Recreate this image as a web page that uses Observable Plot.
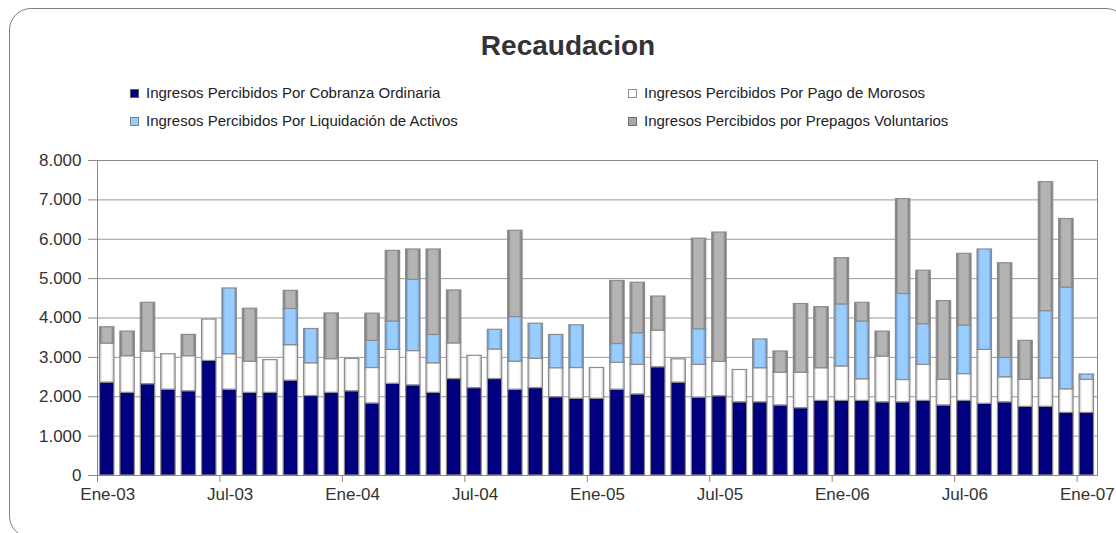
<!DOCTYPE html>
<html>
<head>
<meta charset="utf-8">
<script src="https://cdn.jsdelivr.net/npm/d3@7"></script>
<script src="https://cdn.jsdelivr.net/npm/@observablehq/plot@0.6"></script>
<style>
  body { margin: 0; background: #fff; font-family: "Liberation Sans", Arial, sans-serif; }
  #wrap { position: relative; width: 1116px; height: 533px; overflow: hidden; }
  #frame { position: absolute; left: 9px; top: 8px; width: 1117px; height: 528px; border: 1px solid #808080; border-radius: 22px; pointer-events: none; }
  #header { position: relative; height: 140px; }
  #title { position: absolute; left: 10px; width: 1116px; top: 30px; text-align: center; font-weight: bold; font-size: 28px; line-height: 32px; color: #333; }
  .leg { position: absolute; font-size: 15px; line-height: 18px; color: #222; white-space: nowrap; }
  .sw { position: absolute; width: 7px; height: 7px; border: 1px solid #808080; }
  #chart svg { display: block; }
</style>
</head>
<body>
<div id="wrap">
  <div id="frame"></div>
  <div id="header">
    <div id="title">Recaudacion</div>
    <div id="legend"></div>
  </div>
  <div id="chart"></div>
</div>
<script>
// Categories (months)
const months = [
  "Ene-03","Feb-03","Mar-03","Abr-03","May-03","Jun-03","Jul-03","Ago-03","Sep-03","Oct-03","Nov-03","Dic-03",
  "Ene-04","Feb-04","Mar-04","Abr-04","May-04","Jun-04","Jul-04","Ago-04","Sep-04","Oct-04","Nov-04","Dic-04",
  "Ene-05","Feb-05","Mar-05","Abr-05","May-05","Jun-05","Jul-05","Ago-05","Sep-05","Oct-05","Nov-05","Dic-05",
  "Ene-06","Feb-06","Mar-06","Abr-06","May-06","Jun-06","Jul-06","Ago-06","Sep-06","Oct-06","Nov-06","Dic-06",
  "Ene-07"
];
// Tick labels on the x axis
const xTickLabels = ["Ene-03","Jul-03","Ene-04","Jul-04","Ene-05","Jul-05","Ene-06","Jul-06","Ene-07"];
// Y ticks
const yTicks = [0,1000,2000,3000,4000,5000,6000,7000,8000];

// Series names
const seriesNames = [
  "Ingresos Percibidos Por Cobranza Ordinaria",
  "Ingresos Percibidos Por Pago de Morosos",
  "Ingresos Percibidos Por Liquidación de Activos",
  "Ingresos Percibidos por Prepagos Voluntarios"
];

// Series values
const cobranza = [2360,2100,2320,2180,2140,2910,2180,2100,2100,2410,2020,2100,
                  2140,1830,2330,2290,2100,2450,2220,2450,2180,2220,1990,1950,
                  1950,2180,2060,2750,2360,1980,2015,1860,1860,1780,1710,1895,
                  1895,1895,1860,1860,1895,1780,1895,1820,1860,1745,1745,1590,
                  1590];
const morosos = [990,930,830,900,890,1050,900,790,830,900,830,855,
                 820,900,860,870,750,905,820,750,710,745,735,780,
                 780,680,750,930,590,830,870,820,865,830,900,830,
                 875,550,1160,565,915,650,680,1370,635,685,720,600,
                 840];
const liquidacion = [0,0,0,0,0,0,1670,0,0,920,870,0,
                     0,690,720,1810,720,0,0,500,1135,890,845,1085,
                     0,480,805,0,0,905,0,0,730,0,0,0,
                     1575,1465,0,2185,1035,0,1235,2550,490,0,1710,2580,
                     135];
const prepagos = [415,625,1235,0,540,0,0,1345,0,460,0,1160,
                  0,690,1795,770,2170,1345,0,0,2190,0,0,0,
                  0,1600,1280,865,0,2300,3285,0,0,540,1745,1550,
                  1175,475,635,2410,1355,2000,1820,0,2405,990,3275,1745,
                  0];

const seriesValues = [cobranza, morosos, liquidacion, prepagos];
const fills = ["url(#gNavy)", "url(#gWhite)", "url(#gBlue)", "url(#gGray)"];

// Long table
const data = [];
months.forEach((m, i) => {
  seriesValues.forEach((vals, s) => {
    if (vals[i] > 0) data.push({i, month: m, serie: seriesNames[s], value: vals[i]});
  });
});

const xTickIdx = xTickLabels.map(l => months.indexOf(l));
const fmtY = d => d3.format(",")(d).replace(/,/g, ".");

const plot = Plot.plot({
  width: 1116,
  height: 393,
  marginTop: 20,
  marginBottom: 58,
  marginLeft: 97,
  marginRight: 19,
  style: {fontFamily: "'Liberation Sans', Arial, sans-serif", fontSize: "17px", color: "#333", background: "transparent"},
  x: {type: "linear", domain: [0, months.length], label: null},
  y: {domain: [0, 8000], label: null},
  color: {type: "ordinal", domain: seriesNames, range: fills},
  marks: [
    Plot.gridY(yTicks, {stroke: "#999", strokeOpacity: 1}),
    Plot.rectY(data, {
      x1: "i",
      x2: d => d.i + 1,
      y: "value",
      fill: "serie",
      order: seriesNames,
      stroke: "#8c8c8c",
      strokeWidth: 1.2,
      insetLeft: 2.5,
      insetRight: 3.5
    }),
    Plot.frame({stroke: "#888"}),
    Plot.axisY({ticks: yTicks, tickFormat: fmtY, tickSize: 9, tickPadding: 7, stroke: "#888", fontSize: 17, label: null}),
    Plot.axisX({ticks: xTickIdx, tickFormat: () => "", tickSize: 7, stroke: "#888", label: null}),
    Plot.axisX({ticks: xTickIdx.map(i => i + 0.5), tickFormat: d => months[Math.round(d - 0.5)], tickSize: 0, tickPadding: 12, fontSize: 17, label: null})
  ]
});

// gradients
const defs = d3.select(plot).insert("defs", ":first-child");
function grad(id, edge, mid, e1 = 0.22) {
  const g = defs.append("linearGradient").attr("id", id).attr("x1", 0).attr("x2", 1).attr("y1", 0).attr("y2", 0);
  g.append("stop").attr("offset", 0).attr("stop-color", edge);
  g.append("stop").attr("offset", e1).attr("stop-color", mid);
  g.append("stop").attr("offset", 1 - e1).attr("stop-color", mid);
  g.append("stop").attr("offset", 1).attr("stop-color", edge);
}
grad("gNavy", "#00005c", "#000080", 0.2);
grad("gWhite", "#bdbdbd", "#ffffff", 0.2);
grad("gBlue", "#5f86ad", "#99ccff", 0.2);
grad("gGray", "#6e6e6e", "#b4b4b4", 0.22);

document.getElementById("chart").appendChild(plot);

// legend
const legPos = [
  {x: 130, y: 84}, {x: 628, y: 84},
  {x: 130, y: 112}, {x: 628, y: 112}
];
const swFill = ["#000080", "#ffffff", "#99ccff", "#a8a8a8"];
const swBorder = ["#606060", "#909090", "#808080", "#707070"];
const leg = document.getElementById("legend");
seriesNames.forEach((name, k) => {
  const p = legPos[k];
  const sw = document.createElement("div");
  sw.className = "sw";
  sw.style.left = p.x + "px";
  sw.style.top = (p.y + 5) + "px";
  sw.style.background = swFill[k];
  sw.style.borderColor = swBorder[k];
  leg.appendChild(sw);
  const t = document.createElement("div");
  t.className = "leg";
  t.style.left = (p.x + 16) + "px";
  t.style.top = p.y + "px";
  t.textContent = name;
  leg.appendChild(t);
});
</script>
</body>
</html>
